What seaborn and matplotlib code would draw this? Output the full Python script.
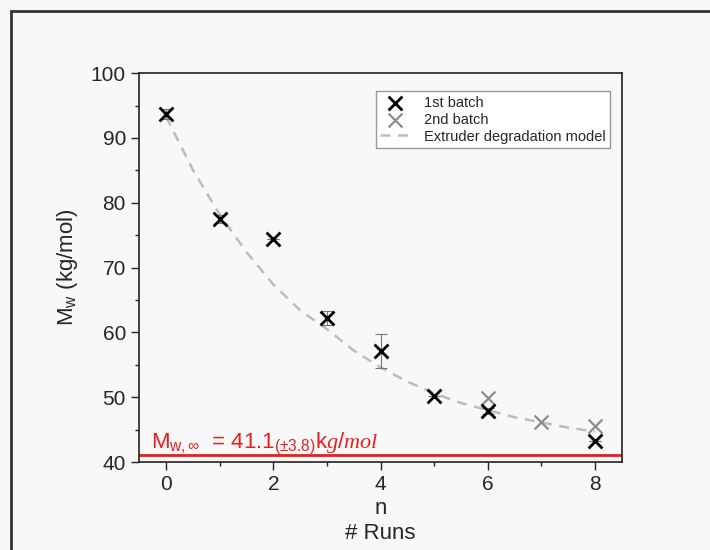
#!/usr/bin/python3

import seaborn as sns
import matplotlib.pyplot as plt
from matplotlib.patches import Rectangle
from matplotlib.ticker import MultipleLocator

# values
runs_1st = [0, 1, 2, 3, 4, 5, 6, 8]
mw_1st = [93.7, 77.5, 74.4, 62.2, 57.1, 50.2, 47.9, 43.3]
err_1st = [0.7, 0.6, 0.0, 1.1, 2.6, 0.0, 0.5, 0.0]

runs_2nd = [6, 7, 8]
mw_2nd = [49.9, 46.2, 45.6]

model_n = [0, 0.5, 1, 1.5, 2, 2.5, 3, 3.5, 4, 4.5, 5, 5.5, 6, 6.5, 7, 7.5, 8]
model_mw = [93.3, 85.1, 78.2, 72.4, 67.4, 63.4, 60.5, 57.2, 54.6, 52.4, 50.6,
            49.1, 48.0, 46.9, 46.1, 45.3, 44.7]

mw_inf = 41.1


def main():
    sns.set_style('ticks')
    plt.rcParams['font.family'] = ['Liberation Sans', 'DejaVu Sans']
    plt.rcParams['mathtext.fontset'] = 'custom'
    plt.rcParams['mathtext.rm'] = 'Liberation Sans'
    plt.rcParams['mathtext.it'] = 'Liberation Serif:italic'
    plt.rcParams['mathtext.bf'] = 'Liberation Sans:bold'

    fig = plt.figure(figsize=(7.1, 5.5), dpi=100, facecolor='#f8f8f8')
    ax = fig.add_axes([0.196, 0.16, 0.68, 0.707])
    ax.set_facecolor('#f8f8f8')

    # outer frame of the screenshot
    fig.patches.append(Rectangle((11 / 710, -0.2), 1.2, (550 - 11) / 550 + 0.2,
                                 transform=fig.transFigure, fill=False,
                                 edgecolor='#333333', linewidth=2))

    ax.axhline(mw_inf, color='#ee1c1c', linewidth=2, zorder=1)

    sns.lineplot(x=model_n, y=model_mw, ax=ax, color='#bdbdbd', linewidth=1.8,
                 label='Extruder degradation model', zorder=2)
    ax.lines[-1].set_linestyle((0, (4, 3)))

    ax.errorbar(runs_1st, mw_1st, yerr=err_1st, fmt='none', ecolor='#777777',
                elinewidth=0.8, capsize=4, capthick=0.8, zorder=3)

    sns.scatterplot(x=runs_1st, y=mw_1st, ax=ax, marker='x', color='black',
                    s=100, linewidth=2, label='1st batch', zorder=5)
    sns.scatterplot(x=runs_2nd, y=mw_2nd, ax=ax, marker='x', color='#8c8c8c',
                    s=100, linewidth=1.6, label='2nd batch', zorder=4)

    ax.text(-0.27, 42.2,
            r'M$_{\rm w,\infty}$  = 41.1$_{(\pm 3.8)}$k$\mathit{g/mol}$',
            color='#ee1c1c', fontsize=16)

    ax.set_xlim(-0.5, 8.5)
    ax.set_ylim(40, 100)
    ax.xaxis.set_major_locator(MultipleLocator(2))
    ax.xaxis.set_minor_locator(MultipleLocator(1))
    ax.yaxis.set_major_locator(MultipleLocator(10))
    ax.yaxis.set_minor_locator(MultipleLocator(5))
    ax.tick_params(which='major', length=6, width=1, labelsize=15, direction='out')
    ax.tick_params(which='minor', length=3, width=1, direction='out')
    for sp in ax.spines.values():
        sp.set_linewidth(1.2)
        sp.set_color('#222222')

    ax.set_xlabel('n\n# Runs', fontsize=16, linespacing=1.25, labelpad=3)
    ax.set_ylabel(r'M$_{\rm w}$ (kg/mol)', fontsize=16, labelpad=8)

    handles, labels = ax.get_legend_handles_labels()
    order = [labels.index(t) for t in ['1st batch', '2nd batch',
                                        'Extruder degradation model']]
    leg = ax.legend([handles[i] for i in order], [labels[i] for i in order],
                    loc='upper right', bbox_to_anchor=(0.99, 0.972),
                    fontsize=10.5, frameon=True, fancybox=False, borderpad=0.3,
                    labelspacing=0.2, handlelength=2.0, handletextpad=1.0)
    leg.get_frame().set_edgecolor('#999999')
    leg.get_frame().set_facecolor('white')
    leg.get_frame().set_alpha(1)

    fig.savefig('out.png', dpi=100, facecolor=fig.get_facecolor())


if __name__ == '__main__':
    main()
